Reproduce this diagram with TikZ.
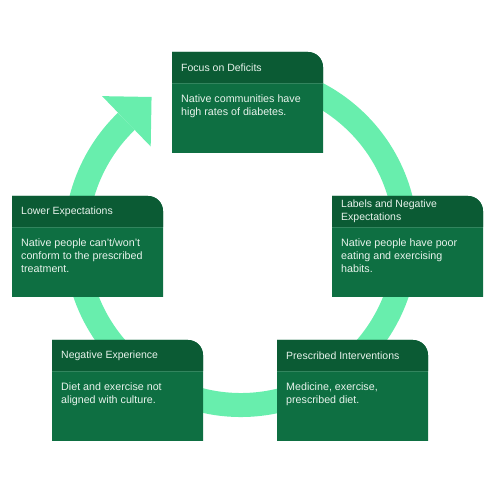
\documentclass[tikz,border=0pt]{standalone}
\usepackage{fontspec}
\setmainfont{Liberation Sans}
\usepackage{tikz}
\definecolor{ringgreen}{HTML}{68EEAD}
\definecolor{headgreen}{HTML}{0B5B34}
\definecolor{bodygreen}{HTML}{0E6F42}
\definecolor{cardtext}{HTML}{E8F3EC}

\begin{document}
\begin{tikzpicture}[x=1pt,y=1pt,
		ring/.style={line width=24pt,draw=ringgreen},
		headtext/.style={anchor=west,inner sep=0pt,text=cardtext,align=left,font=\fontsize{10.5}{13}\selectfont},
		bodytext/.style={anchor=north west,inner sep=0pt,text=cardtext,align=left,font=\fontsize{10.7}{13}\selectfont}]
		\useasboundingbox (0,0) rectangle (495,495);

		% ring with arrow head
		\coordinate (centre) at (241,255);
		\draw[ring] (centre) ++(100:165) arc (100:-226:165) coordinate (arrowbase);
		\fill[ringgreen] (arrowbase) +(134:35) -- +(44:35) -- +(-46:35) -- cycle;

		% cards
		\foreach \x/\y/\name/\head/\body in {
			172/443/focus/{Focus on Deficits}/{Native communities have\\high rates of diabetes.},
			12/299/lower/{Lower Expectations}/{Native people can't/won't\\conform to the prescribed\\treatment.},
			332/299/labels/{Labels and Negative\\Expectations}/{Native people have poor\\eating and exercising\\habits.},
			52/155/negexp/{Negative Experience}/{Diet and exercise not\\aligned with culture.},
			277/155/presc/{Prescribed Interventions}/{Medicine, exercise,\\prescribed diet.}}{
			\fill[bodygreen] (\x,\y-101) -- (\x,\y) -- (\x+136,\y) arc (90:0:15) -- (\x+151,\y-101) -- cycle;
			\fill[headgreen] (\x,\y-31) -- (\x,\y) -- (\x+136,\y) arc (90:0:15) -- (\x+151,\y-31) -- cycle;
			\draw[bodygreen!85!white,line width=0.5pt] (\x,\y-31) -- (\x+151,\y-31);
			\node[headtext] (\name-head) at (\x+9,\y-15.5) {\head};
			\node[bodytext] (\name-body) at (\x+9,\y-43) {\body};
		}
	\end{tikzpicture}
\end{document}
